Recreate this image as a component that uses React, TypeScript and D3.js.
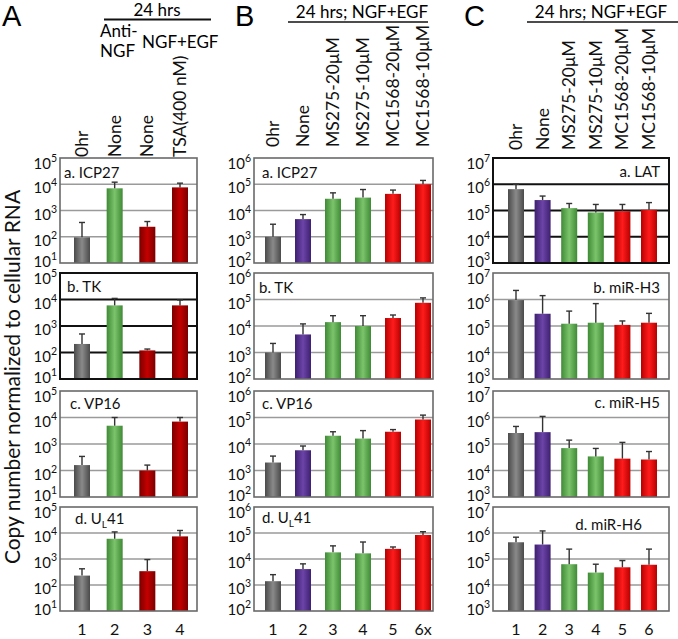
import React from 'react';
import * as d3 from 'd3';

// ---------- DATA ----------
const conditionsA = ['0hr', 'None', 'None', 'TSA(400 nM)'];
const conditionsB = ['0hr', 'None', 'MS275-20μM', 'MS275-10μM', 'MC1568-20μM', 'MC1568-10μM'];
const conditionsC = ['0hr', 'None', 'MS275-20μM', 'MS275-10μM', 'MC1568-20μM', 'MC1568-10μM'];

const lanesA = ['1', '2', '3', '4'];
const lanesB = ['1', '2', '3', '4', '5', '6x'];
const lanesC = ['1', '2', '3', '4', '5', '6'];

const genesA = ['a. ICP27', 'b. TK', 'c. VP16', 'd. UL41'];
const genesB = ['a. ICP27', 'b. TK', 'c. VP16', 'd. UL41'];
const genesC = ['a. LAT', 'b. miR-H3', 'c. miR-H5', 'd. miR-H6'];

const colorKeysA = ['grey', 'green', 'darkred', 'darkred'];
const colorKeysBC = ['grey', 'purple', 'green', 'green', 'red', 'red'];

// means (rows = genes, cols = lanes)
const meansA = [
  [95, 7000, 240, 7600],
  [210, 6000, 120, 6000],
  [160, 4900, 100, 7000],
  [230, 6000, 340, 7400],
];
const upperA = [
  [350, 12000, 380, 11000],
  [500, 11000, 135, 9600],
  [340, 10000, 160, 10000],
  [420, 11000, 950, 12500],
];
const meansB = [
  [1000, 4700, 28000, 31000, 43000, 100000],
  [1000, 4800, 14000, 10000, 20000, 75000],
  [2000, 5800, 20500, 16000, 29000, 84000],
  [1400, 4100, 18000, 16500, 24500, 84000],
];
const upperB = [
  [3000, 7000, 47000, 63000, 60000, 140000],
  [2200, 12000, 24500, 24500, 26000, 115000],
  [3500, 8400, 29000, 32000, 35000, 123000],
  [2500, 6500, 32000, 45000, 29000, 112000],
];
const meansC = [
  [650000, 250000, 123000, 84000, 94000, 106000],
  [950000, 290000, 122000, 133000, 110000, 133000],
  [260000, 280000, 70000, 34000, 28000, 26000],
  [440000, 360000, 63000, 30000, 48000, 60000],
];
const upperC = [
  [1000000, 355000, 185000, 170000, 170000, 200000],
  [2200000, 1400000, 365000, 700000, 155000, 300000],
  [460000, 1100000, 140000, 68000, 115000, 52000],
  [690000, 1200000, 240000, 63000, 87000, 240000],
];

const expA = [1, 5];
const expB = [2, 6];
const expC = [3, 7];

// ---------- LAYOUT / STYLE ----------
const FONT = 'Lato, "Open Sans", sans-serif';
const rowTops = [158, 273, 391, 507];
const rowBottoms = [263, 379, 497, 611];

const gradients: Record<string, [string, string]> = {
  grey: ['#4a4a4a', '#8a8a8a'],
  green: ['#3f8a36', '#7cc46c'],
  purple: ['#3e2070', '#6c44a8'],
  darkred: ['#7c0000', '#c40000'],
  red: ['#b80000', '#ff1c1c'],
};

type PanelProps = {
  x0: number;
  x1: number;
  c0: number;
  c1: number;
  exps: number[];
  genes: string[];
  means: number[][];
  upper: number[][];
  colors: string[];
  lanes: string[];
  conditions: string[];
  labelBottom: number;
  strongRows: number[];
  geneLabelX: (i: number) => { x: number; anchor: string; dy: number };
};

function GeneLabel({ text, x, y, anchor }: { text: string; x: number; y: number; anchor: string }) {
  if (text.endsWith('UL41')) {
    return (
      <text x={x} y={y} fontSize={15} fontFamily={FONT} textAnchor={anchor} fill="#111">
        d. U<tspan fontSize={10} dy={4}>L</tspan><tspan dy={-4}>41</tspan>
      </text>
    );
  }
  return (
    <text x={x} y={y} fontSize={15} fontFamily={FONT} textAnchor={anchor} fill="#111">
      {text}
    </text>
  );
}

function Panel(p: PanelProps) {
  const x = d3.scalePoint<string>().domain(p.lanes).range([p.c0, p.c1]);
  const bw = 16;
  const decades = d3.range(p.exps[0], p.exps[1] + 1);
  return (
    <g>
      {p.genes.map((gene, r) => {
        const y = d3
          .scaleLog()
          .domain([Math.pow(10, p.exps[0]), Math.pow(10, p.exps[1])])
          .range([rowBottoms[r], rowTops[r]]);
        const strong = p.strongRows.includes(r);
        const gridColor = strong ? '#111' : '#9a9a9a';
        const frameColor = strong ? '#111' : '#6a6a6a';
        const lab = p.geneLabelX(r);
        return (
          <g key={gene + r}>
            {decades.slice(1, -1).map((d) => (
              <line
                key={d}
                x1={p.x0}
                x2={p.x1}
                y1={y(Math.pow(10, d))}
                y2={y(Math.pow(10, d))}
                stroke={gridColor}
                strokeWidth={strong ? 2 : 1.6}
              />
            ))}
            {p.means[r].map((v, i) => {
              const cx = x(p.lanes[i]) as number;
              const yTop = y(v);
              const yErr = y(p.upper[r][i]);
              return (
                <g key={i}>
                  <rect
                    x={cx - bw / 2}
                    y={yTop}
                    width={bw}
                    height={rowBottoms[r] - yTop}
                    fill={`url(#grad-${p.colors[i]})`}
                  />
                  <line x1={cx} x2={cx} y1={yTop} y2={yErr} stroke="#333" strokeWidth={1.4} />
                  <line x1={cx - 3} x2={cx + 3} y1={yErr} y2={yErr} stroke="#333" strokeWidth={1.4} />
                </g>
              );
            })}
            <rect
              x={p.x0}
              y={rowTops[r]}
              width={p.x1 - p.x0}
              height={rowBottoms[r] - rowTops[r]}
              fill="none"
              stroke={frameColor}
              strokeWidth={strong ? 2 : 1.6}
            />
            {decades.map((d, k) => {
              const off = k === 0 ? 4 : k === decades.length - 1 ? 11 : 9;
              return (
                <text
                  key={d}
                  x={p.x0 - 3}
                  y={y(Math.pow(10, d)) + off}
                  textAnchor="end"
                  fontSize={15}
                  fontFamily={FONT}
                  fill="#111"
                >
                  10<tspan fontSize={10.5} dy={-7}>{d}</tspan>
                </text>
              );
            })}
            <GeneLabel text={gene} x={lab.x} y={rowTops[r] + lab.dy} anchor={lab.anchor} />
          </g>
        );
      })}
      {p.lanes.map((l, i) => (
        <text
          key={'n' + i}
          x={x(l) as number}
          y={635}
          textAnchor="middle"
          fontSize={16}
          fontFamily={FONT}
          fill="#111"
        >
          {l}
        </text>
      ))}
      {p.conditions.map((c, i) => (
        <text
          key={'c' + i}
          transform={`translate(${(x(p.lanes[i]) as number) + 6},${p.labelBottom}) rotate(-90)`}
          fontSize={17.5}
          fontFamily={FONT}
          fill="#111"
        >
          {c}
        </text>
      ))}
    </g>
  );
}

export default function App() {
  return (
    <svg width={678} height={639} style={{ position: 'absolute', left: 0, top: 0, background: '#fff' }}>
      <defs>
        {Object.entries(gradients).map(([k, [dark, light]]) => (
          <linearGradient key={k} id={`grad-${k}`} x1="0" x2="1" y1="0" y2="0">
            <stop offset="0" stopColor={dark} />
            <stop offset="0.5" stopColor={light} />
            <stop offset="1" stopColor={dark} />
          </linearGradient>
        ))}
      </defs>
      <rect x={0} y={0} width={678} height={639} fill="#fff" />

      {/* panel letters */}
      <text x={2} y={26} fontSize={29} fontFamily='"Liberation Sans", Arial, sans-serif'>A</text>
      <text x={235} y={26} fontSize={29} fontFamily='"Liberation Sans", Arial, sans-serif'>B</text>
      <text x={464} y={26} fontSize={29} fontFamily='"Liberation Sans", Arial, sans-serif'>C</text>

      {/* headers */}
      <text x={157} y={16} textAnchor="middle" fontSize={17} fontFamily={FONT}>24 hrs</text>
      <line x1={104} x2={211} y1={19.5} y2={19.5} stroke="#111" strokeWidth={2} />
      <text x={100} y={37} fontSize={17} fontFamily={FONT}>Anti-</text>
      <text x={100} y={57} fontSize={17} fontFamily={FONT}>NGF</text>
      <text x={142} y={48} fontSize={17} fontFamily={FONT}>NGF+EGF</text>

      <text x={362} y={18} textAnchor="middle" fontSize={17} fontFamily={FONT}>24 hrs; NGF+EGF</text>
      <line x1={288} x2={428} y1={22} y2={22} stroke="#111" strokeWidth={1.5} />
      <text x={601} y={18} textAnchor="middle" fontSize={17} fontFamily={FONT}>24 hrs; NGF+EGF</text>
      <line x1={527} x2={678} y1={22} y2={22} stroke="#111" strokeWidth={1.5} />

      {/* y title */}
      <text
        transform="translate(20,377) rotate(-90)"
        textAnchor="middle"
        fontSize={21}
        fontFamily={FONT}
        fill="#111"
      >
        Copy number normalized to cellular RNA
      </text>

      <Panel
        x0={60}
        x1={197}
        c0={82}
        c1={180}
        exps={expA}
        genes={genesA}
        means={meansA}
        upper={upperA}
        colors={colorKeysA}
        lanes={lanesA}
        conditions={conditionsA}
        labelBottom={157}
        strongRows={[1]}
        geneLabelX={(i) => ({ x: 60 + [4, 7, 10, 15][i], anchor: 'start', dy: [20, 19, 18, 17][i] })}
      />
      <Panel
        x0={254}
        x1={433}
        c0={273}
        c1={423}
        exps={expB}
        genes={genesB}
        means={meansB}
        upper={upperB}
        colors={colorKeysBC}
        lanes={lanesB}
        conditions={conditionsB}
        labelBottom={147}
        strongRows={[]}
        geneLabelX={(i) => ({ x: 254 + [8, 5, 8, 8][i], anchor: 'start', dy: [20, 20, 18, 16][i] })}
      />
      <Panel
        x0={493}
        x1={669}
        c0={516}
        c1={649}
        exps={expC}
        genes={genesC}
        means={meansC}
        upper={upperC}
        colors={colorKeysBC}
        lanes={lanesC}
        conditions={conditionsC}
        labelBottom={150}
        strongRows={[0]}
        geneLabelX={(i) => ({ x: i === 3 ? 642 : 660, anchor: 'end', dy: [19, 20, 17, 23][i] })}
      />
    </svg>
  );
}
